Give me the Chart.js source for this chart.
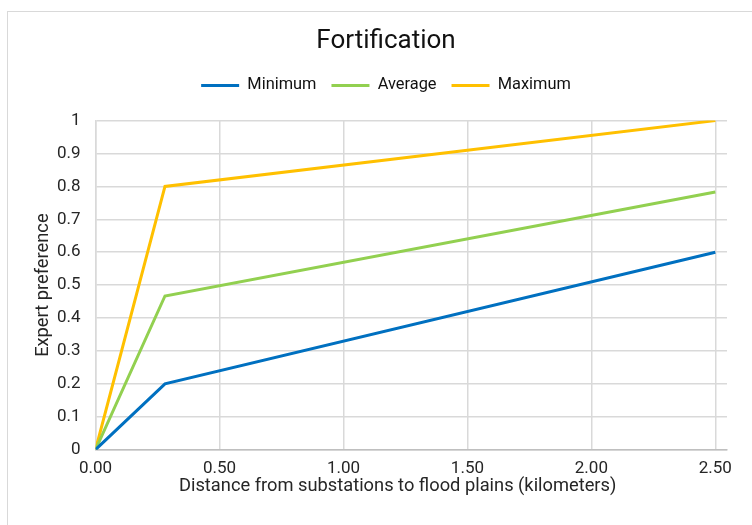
<!DOCTYPE html>
<html>
<head>
<meta charset="utf-8">
<script src="https://cdn.jsdelivr.net/npm/chart.js@4"></script>
<style>
  html, body { margin: 0; padding: 0; background: #fff; }
  body { width: 752px; height: 525px; overflow: hidden; position: relative; }
  .frame { position: absolute; left: 7px; top: 11px; width: 780px; height: 560px; border: 1px solid #d9d9d9; }
  #wrap { position: absolute; left: 0; top: 0; width: 752px; height: 525px; }
</style>
</head>
<body>
<div class="frame"></div>
<div id="wrap"><canvas id="chart"></canvas></div>
<script>
// 数据
const distance = [0, 0.28, 2.5];
const minimum = [0, 0.2, 0.6];
const average = [0, 0.467, 0.783];
const maximum = [0, 0.8, 1.0];
const xTicks = [0, 0.5, 1, 1.5, 2, 2.5];
const yTicks = [0, 0.1, 0.2, 0.3, 0.4, 0.5, 0.6, 0.7, 0.8, 0.9, 1];

function toPoints(values) {
  return distance.map((d, i) => ({ x: d, y: values[i] }));
}

function makeSet(label, values, color) {
  return {
    label: label,
    data: toPoints(values),
    borderColor: color,
    backgroundColor: color,
    borderWidth: 3,
    pointRadius: 0,
    tension: 0
  };
}

// 图例下方留白
const legendGap = {
  id: 'legendGap',
  beforeInit(chart) {
    const origFit = chart.legend.fit;
    chart.legend.fit = function() {
      origFit.bind(chart.legend)();
      this.height += 17;
    };
  }
};

Chart.defaults.font.family = 'Roboto, "Liberation Sans", sans-serif';
Chart.defaults.color = '#262626';

const ctx = document.getElementById('chart').getContext('2d');
new Chart(ctx, {
  type: 'line',
  data: {
    datasets: [
      makeSet('Minimum', minimum, '#0070C0'),
      makeSet('Average', average, '#92D050'),
      makeSet('Maximum', maximum, '#FFC000')
    ]
  },
  plugins: [legendGap],
  options: {
    responsive: true,
    maintainAspectRatio: false,
    animation: false,
    layout: { padding: { top: 26, right: 25, bottom: 28, left: 45 } },
    plugins: {
      title: {
        display: true,
        text: 'Fortification',
        color: '#111',
        font: { size: 26, weight: 'normal' },
        padding: { top: 0, bottom: 5 }
      },
      legend: {
        position: 'top',
        labels: {
          usePointStyle: true,
          pointStyle: 'line',
          pointStyleWidth: 38,
          boxHeight: 3,
          color: '#111',
          font: { size: 16.4 },
          padding: 15
        }
      },
      tooltip: { enabled: false }
    },
    scales: {
      x: {
        type: 'linear',
        min: 0,
        max: 2.547,
        afterBuildTicks: scale => { scale.ticks = xTicks.map(v => ({ value: v })); },
        ticks: {
          font: { size: 17 },
          padding: 9,
          maxRotation: 0,
          callback: v => Number(v).toFixed(2)
        },
        grid: { color: '#d9d9d9', lineWidth: 1.5, drawTicks: false },
        border: { color: '#bfbfbf', width: 1.5 },
        title: {
          display: true,
          text: 'Distance from substations to flood plains (kilometers)\u00a0\u00a0\u00a0\u00a0\u00a0\u00a0',
          font: { size: 18.3 },
          padding: { top: -13, bottom: 0 }
        }
      },
      y: {
        min: 0,
        max: 1,
        afterBuildTicks: scale => { scale.ticks = yTicks.map(v => ({ value: v })); },
        ticks: {
          font: { size: 17 },
          padding: 15,
          callback: v => String(Math.round(v * 10) / 10)
        },
        grid: { color: '#d9d9d9', lineWidth: 1.5, drawTicks: false },
        border: { color: '#d9d9d9', width: 1.5 },
        title: {
          display: true,
          text: 'Expert preference',
          font: { size: 18.3 },
          padding: { top: -13, bottom: -12 }
        }
      }
    }
  }
});
</script>
</body>
</html>
